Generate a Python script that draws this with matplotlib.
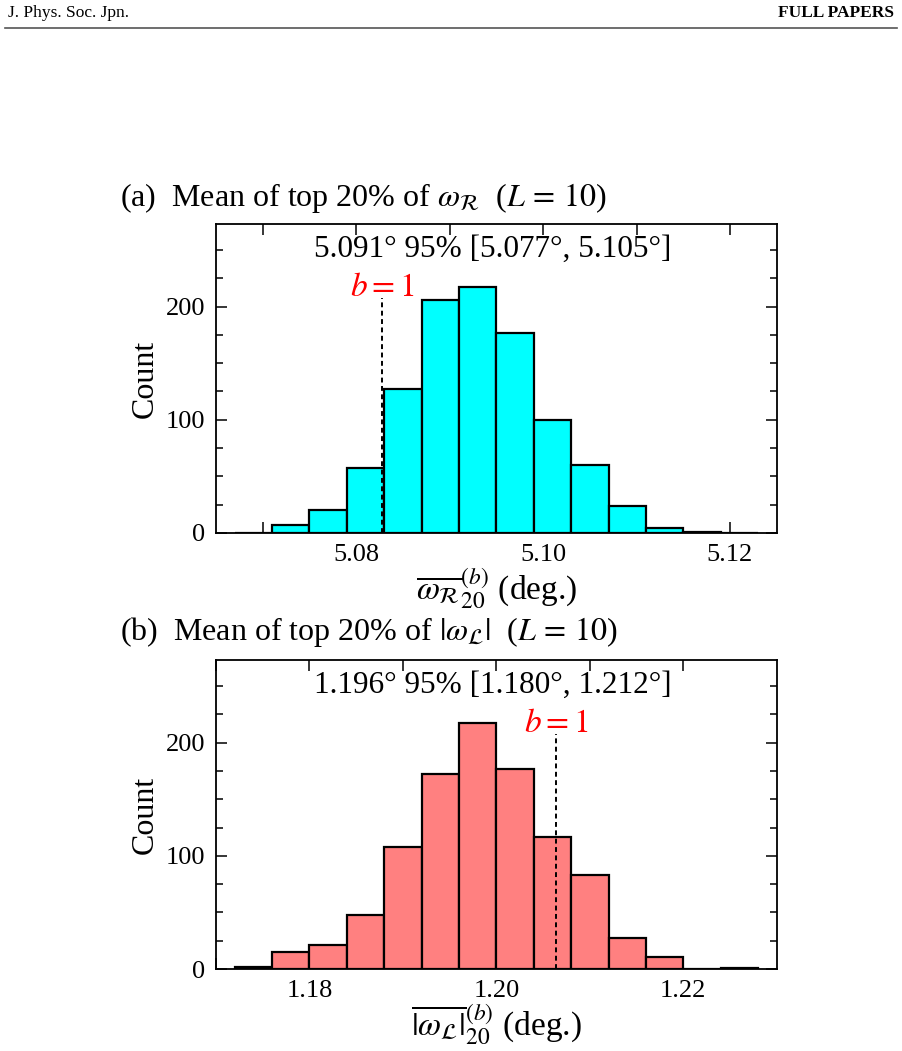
import numpy as np
import matplotlib
matplotlib.use('Agg')
import matplotlib.pyplot as plt

plt.rcParams['font.family'] = ['Liberation Serif', 'DejaVu Serif']
plt.rcParams['mathtext.fontset'] = 'stix'

# panel (a): mean of top 20% of omega_R
edges_a = [5.067, 5.071, 5.075, 5.079, 5.083, 5.087, 5.091, 5.095, 5.099,
           5.103, 5.107, 5.111, 5.115, 5.119, 5.123]
counts_a = [0, 7, 20, 57, 127, 206, 217, 177, 100, 60, 24, 4, 1, 0]
b1_a = 5.0828
ticks_a = [5.07, 5.08, 5.09, 5.10, 5.11, 5.12]
ticklabels_a = ['', '5.08', '', '5.10', '', '5.12']
xlim_a = (5.065, 5.125)
note_a = '5.091° 95% [5.077°, 5.105°]'

# panel (b): mean of top 20% of |omega_L|
edges_b = [1.172, 1.176, 1.180, 1.184, 1.188, 1.192, 1.196, 1.200, 1.204,
           1.208, 1.212, 1.216, 1.220, 1.224, 1.228]
counts_b = [2, 15, 21, 48, 108, 172, 217, 177, 117, 83, 27, 11, 0, 1]
b1_b = 1.2064
ticks_b = [1.17, 1.18, 1.19, 1.20, 1.21, 1.22]
ticklabels_b = ['', '1.18', '', '1.20', '', '1.22']
xlim_b = (1.170, 1.230)
note_b = '1.196° 95% [1.180°, 1.212°]'

fig = plt.figure(figsize=(9.02, 10.51), dpi=100)

# journal header
fig.text(0.009, 0.988, 'J. Phys. Soc. Jpn.', fontsize=12.5, va='center', ha='left')
fig.text(0.991, 0.988, 'FULL PAPERS', fontsize=12.5, va='center', ha='right', weight='bold')
fig.add_artist(plt.Line2D([0.006, 0.994], [0.9735, 0.9735], color='#555555', lw=1.2))


def panel(ax, edges, counts, color, b1, ticks, ticklabels, xlim, note, xlabel):
    width = edges[1] - edges[0]
    ax.bar(edges[:-1], counts, width=width, align='edge', color=color,
           edgecolor='black', linewidth=1.6, zorder=2)
    ax.plot([b1, b1], [0, 208], color='black', ls=(0, (2.5, 1.8)), lw=1.4, zorder=3)
    ax.text(b1, 209, r'$b = 1$', color='red', fontsize=24, ha='center', va='baseline')
    ax.text(np.mean(xlim) - 0.0004, 251, note, fontsize=22.5, ha='center', va='center')
    ax.set_xlim(*xlim)
    ax.set_ylim(0, 273)
    ax.set_xticks(ticks)
    ax.set_xticklabels(ticklabels)
    ax.set_yticks([0, 100, 200])
    ax.set_yticks(np.arange(0, 275, 25), minor=True)
    ax.tick_params(which='both', direction='in', top=True, right=True,
                   labelsize=19, width=1.1, pad=8)
    ax.tick_params(which='major', length=8)
    ax.tick_params(which='minor', length=5)
    for s in ax.spines.values():
        s.set_linewidth(1.3)
    ax.set_ylabel('Count', fontsize=23, labelpad=4)
    ax.set_xlabel(xlabel, fontsize=24, labelpad=0)


ax1 = fig.add_axes([0.2395, 0.4929, 0.6216, 0.294])
panel(ax1, edges_a, counts_a, '#00FFFF', b1_a, ticks_a, ticklabels_a, xlim_a, note_a,
      r'$\overline{\omega_{\mathcal{R}}}_{20}^{(b)}$ (deg.)')

ax2 = fig.add_axes([0.2395, 0.078, 0.6216, 0.294])
panel(ax2, edges_b, counts_b, '#FF8080', b1_b, ticks_b, ticklabels_b, xlim_b, note_b,
      r'$\overline{|\omega_{\mathcal{L}}|}_{20}^{(b)}$ (deg.)')

fig.text(0.133, 0.812, r'(a)  Mean of top 20% of $\omega_{\mathcal{R}}$  ($L\,=\,10$)',
         fontsize=23, ha='left', va='center')
fig.text(0.133, 0.399, r'(b)  Mean of top 20% of $|\omega_{\mathcal{L}}|$  ($L\,=\,10$)',
         fontsize=23, ha='left', va='center')

fig.savefig('out.png', dpi=100)
